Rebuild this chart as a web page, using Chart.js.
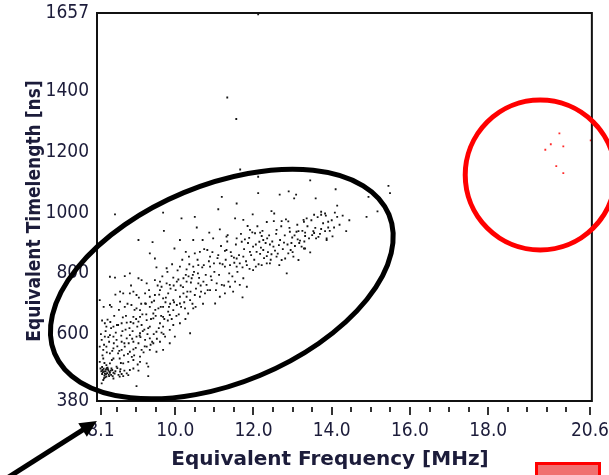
<!DOCTYPE html>
<html>
<head>
<meta charset="utf-8">
<script src="https://cdn.jsdelivr.net/npm/chart.js@4.4.1/dist/chart.umd.min.js"></script>
<style>
  html, body { margin: 0; padding: 0; background: #fff; }
</style>
</head>
<body>
<canvas id="chart" width="609" height="475"></canvas>
<script>
// --- DATA ---
const xTickValues = [8.1, 8.5, 9.0, 9.5, 10.0, 10.5, 11.0, 11.5, 12.0, 12.5, 13.0, 13.5, 14.0, 14.5,
    15.0, 15.5, 16.0, 16.5, 17.0, 17.5, 18.0, 18.5, 19.0, 19.5, 20.0, 20.6];
const xTickLabels = [8.1, 10.0, 12.0, 14.0, 16.0, 18.0, 20.6];
const yTickValues = [380, 600, 800, 1000, 1200, 1400, 1657];

// [frequency MHz, timelength ns]
const clusterPoints = [
    [11.57,1030],[11.10,1011],[8.46,994],[9.69,1000],[10.16,981],[10.50,986],[12.46,1005],[12.53,997],[11.98,994],
    [11.53,981],[11.74,976],[12.34,969],[12.52,972],[12.72,972],[12.83,978],[12.89,971],[13.28,976],[13.29,970],
    [10.55,951],[9.71,940],[10.87,934],[11.14,945],[11.31,921],[11.85,956],[11.91,943],[12.04,932],[12.17,934],
    [12.21,923],[12.59,943],[12.93,937],[13.10,937],[13.15,939],[13.19,908],[13.13,912],[12.99,918],
    [9.06,910],[9.42,903],[10.12,910],[10.46,910],[10.70,910],[10.97,915],[11.34,926],[11.57,915],[11.70,904],
    [11.78,912],[11.89,917],[11.99,888],[12.15,904],[12.25,910],[12.35,915],[12.42,895],[12.51,888],[12.65,893],
    [12.78,901],[12.95,877],[13.06,890],[13.23,888],[13.29,882],[12.89,866],
    [9.35,866],[9.48,849],[9.98,882],[10.27,871],[10.35,855],[10.50,866],[10.63,871],[10.82,877],[10.89,855],
    [11.10,860],[11.27,874],[11.31,877],[11.44,857],[11.50,852],[11.57,849],[11.74,855],[11.91,871],[12.08,871],
    [12.17,864],[12.25,877],[12.34,857],[12.46,863],[12.59,855],[12.72,844],[12.81,849],[13.02,855],[13.15,844],
    [12.66,827],[12.42,833],
    [9.52,820],[9.78,817],[10.12,822],[10.29,813],[10.46,822],[10.59,827],[10.73,827],[10.89,822],[10.99,833],
    [11.14,833],[11.27,822],[11.40,827],[11.57,822],[11.65,833],[11.83,827],[11.99,811],[12.06,822],[12.21,827],
    [12.34,833],[12.85,800],[8.84,800],[8.71,791],[8.33,789],[8.46,786],
    [9.06,784],[9.14,778],[9.27,767],[9.48,778],[9.61,773],[9.65,756],[9.78,767],[9.86,762],[9.95,786],[10.04,773],
    [10.21,784],[10.29,773],[10.42,784],[10.59,767],[10.72,773],[10.80,762],[10.93,778],[11.06,767],[11.19,762],
    [11.36,773],[11.40,756],[11.53,773],[11.74,784],[11.83,756],[11.65,762],
    [8.59,740],[8.67,734],[8.84,734],[8.93,740],[9.01,729],[9.23,734],[9.35,723],[9.48,729],[9.61,745],[9.69,718],
    [9.82,734],[9.95,712],[10.12,723],[10.21,734],[10.29,723],[10.38,712],[10.50,729],[10.63,723],[10.76,734],
    [10.89,745],[11.02,701],[11.14,723],[11.27,734],[11.48,740],[11.72,721],
    [8.07,712],[8.33,696],[8.37,690],[8.59,707],[8.71,690],[8.88,696],[9.01,685],[9.10,679],[9.23,701],[9.35,690],
    [9.44,668],[9.57,685],[9.69,690],[9.82,674],[9.95,679],[10.04,696],[10.12,701],[10.25,685],[10.33,668],
    [10.46,685],[8.93,657],[9.10,657],[9.69,657],[9.86,663],
    [8.20,636],[8.24,625],[8.42,625],[8.54,630],[8.63,636],[8.76,638],[8.93,636],[9.06,641],[9.14,630],[9.27,646],
    [9.35,625],[9.44,652],[9.61,636],[9.69,625],[9.86,614],[9.95,630],[10.12,636],[10.38,603],[9.52,608],[9.65,605],
    [8.12,581],[8.20,592],[8.33,597],[8.42,592],[8.50,581],[8.63,575],[8.76,586],[8.84,597],[8.93,575],[9.01,592],
    [9.10,603],[9.23,581],[9.35,586],[9.44,570],[9.61,575],[9.74,592],[9.86,570],[9.99,592],
    [8.07,559],[8.16,548],[8.24,559],[8.33,537],[8.42,553],[8.54,537],[8.63,548],[8.71,559],[8.84,542],[8.93,550],
    [9.06,570],[9.14,548],[9.27,559],[9.35,548],[9.52,542],[9.69,548],[9.10,526],
    [8.07,509],[8.16,520],[8.24,498],[8.33,504],[8.42,520],[8.50,493],[8.67,504],[8.80,509],[8.93,515],[9.10,509],
    [9.27,504],[9.31,493],
    [8.09,487],[8.14,482],[8.18,477],[8.23,484],[8.29,480],[8.33,473],[8.13,469],[8.19,464],[8.24,460],[8.30,467],
    [8.37,487],[8.42,473],[8.59,477],[8.63,469],[8.67,462],[8.76,471],[8.84,482],[8.93,487],[9.06,480],[8.16,449],
    [9.31,462],[8.42,454],[9.01,429],[8.12,438],
    [8.15,475],[8.17,486],[8.20,470],[8.22,478],[8.26,472],[8.27,490],[8.31,462],[8.35,480],[8.21,458],[8.28,485],
    [8.11,478],[8.40,462],[8.45,470],[8.55,466],[8.60,485],
    [15.17,1004],[14.89,986],[14.14,1023],[14.14,986],[13.73,1003],[13.73,993],[13.83,997],[13.55,993],[13.36,981],
    [13.91,970],[13.91,951],[14.06,951],[13.73,946],[13.83,939],[14.37,939],[13.53,939],[13.55,933],[13.32,934],
    [13.50,926],[13.66,920],[13.60,915],[14.02,922],[13.87,915],[13.87,910],[13.32,882],[13.45,869],[13.32,923]
];
// fainter, denser part of the band, estimated strip by strip
const bandPoints = [
    [8.14,530],[8.18,565],[8.22,610],[8.27,648],[8.31,575],[8.36,620],[8.39,545],[8.44,660],[8.48,605],[8.52,560],
    [8.56,680],[8.58,520],[8.62,595],[8.66,655],[8.69,530],[8.73,615],[8.78,700],[8.81,570],[8.86,640],[8.89,525],
    [8.91,610],[8.96,680],[8.99,555],[9.03,625],[9.07,720],[9.11,590],[9.16,665],[9.19,540],[9.21,615],[9.25,700],
    [9.29,600],[9.33,745],[9.38,650],[9.41,575],[9.46,710],[9.50,660],[9.55,760],[9.58,620],[9.63,690],[9.67,790],
    [9.72,650],[9.76,720],[9.80,805],[9.84,690],[9.88,750],[9.92,830],[9.97,705],[10.01,745],[10.06,810],[10.09,665],
    [10.14,760],[10.18,845],[10.23,705],[10.27,795],[10.31,740],[10.36,830],[10.40,770],[10.44,700],[10.48,805],
    [10.53,750],[10.57,845],[10.61,785],[10.66,740],[10.69,820],[10.74,880],[10.78,795],[10.83,745],[10.86,840],
    [10.91,790],[10.95,870],[11.00,805],[11.04,745],[11.08,850],[11.12,795],[11.17,890],[11.21,830],[11.25,760],
    [11.29,845],[11.33,905],[11.38,800],[11.42,870],[11.46,790],[11.51,835],[11.55,895],[11.59,805],[11.63,860],
    [11.68,930],[11.72,820],[11.76,880],[11.81,840],[11.86,900],[11.90,815],[11.94,860],[11.97,935],[12.02,845],
    [12.06,895],[12.10,955],[12.13,830],[12.19,885],[12.23,940],[12.27,850],[12.31,900],[12.37,870],[12.40,925],
    [12.44,845],[12.48,905],[12.55,875],[12.58,930],[12.62,865],[12.68,910],[12.71,955],[12.75,880],[12.80,925],
    [12.87,895],[12.92,950],[12.97,900],[13.00,870],[13.05,925],[13.12,960],[13.17,900],[13.25,940],[13.30,905],
    [13.38,955],[13.42,915],[13.48,975],[13.58,950],[13.64,985],[13.70,930],[13.78,965],[13.85,990],[13.95,940],
    [14.00,975],[14.08,1000],[14.20,960],[14.28,990],[14.45,975],
    [8.10,600],[8.13,645],[8.17,690],[8.19,505],[8.25,540],[8.29,590],[8.34,640],[8.38,515],[8.43,570],[8.47,730],
    [8.51,630],[8.57,545],[8.61,505],[8.65,610],[8.70,570],[8.74,660],[8.79,535],[8.83,620],[8.87,760],[8.90,585],
    [8.95,530],[9.00,650],[9.04,500],[9.09,595],[9.13,700],[9.17,610],[9.22,560],[9.26,665],[9.31,620],[9.37,565],
    [9.40,705],[9.45,600],[9.49,680],[9.53,585],[9.59,730],[9.64,660],[9.70,600],[9.75,705],[9.81,645],[9.87,700],
    [9.91,650],[9.96,760],[10.03,660],[10.08,780],[10.15,690],[10.20,755],[10.26,650],[10.34,790],[10.39,740],
    [10.45,795],[10.52,690],[10.58,800],[10.65,760],[10.71,700],
    [8.13,492],[8.18,455],[8.23,468],[8.25,488],[8.32,476],[8.36,466],[8.39,482],[8.47,478],[8.52,488],[8.58,460],
    [8.70,480],[8.80,465]
];
const outlierPoints = [
    [12.12,1653],[11.33,1379],[11.56,1308],[11.66,1142],[11.19,1052],[12.12,1118],[13.45,1106],[15.45,1088],
    [15.49,1064],[12.12,1064],[12.67,1059],[12.90,1070],[13.09,1059],[13.04,1047],[13.59,1047],[14.10,1077],
    [14.94,1052]
];
const redPoints = [
    [19.82,1261],[19.60,1225],[19.92,1218],[19.46,1207],[19.74,1153],[19.92,1130],[20.62,1238]
];

// hand-drawn marks on the figure (centres in data units, sizes in px)
const ellipseCenter = [11.19, 765];
const redCircleCenter = [19.33, 1124];

const tickFont = "'DejaVu Sans Condensed', 'Liberation Sans', sans-serif";
const textColor = '#1c1c3a';

const toXY = pts => pts.map(p => ({ x: p[0], y: p[1] }));
const isMajor = v => xTickLabels.some(t => Math.abs(t - v) < 1e-6);

const framePlugin = {
    id: 'frame',
    afterDraw(chart) {
        const { ctx, chartArea: a, scales: { x, y } } = chart;
        ctx.save();

        // plot box
        ctx.strokeStyle = '#111';
        ctx.lineWidth = 2;
        ctx.strokeRect(a.left, a.top, a.right - a.left, a.bottom - a.top);

        // x tick marks, a little below the box
        ctx.strokeStyle = '#333';
        ctx.lineWidth = 2;
        xTickValues.forEach(v => {
            const px = Math.round(x.getPixelForValue(v));
            const len = isMajor(v) ? 8 : 5;
            ctx.beginPath();
            ctx.moveTo(px, a.bottom + 6);
            ctx.lineTo(px, a.bottom + 6 + len);
            ctx.stroke();
        });

        // axis titles
        ctx.fillStyle = textColor;
        ctx.textAlign = 'center';
        ctx.textBaseline = 'middle';
        ctx.font = "bold 20px 'DejaVu Sans', sans-serif";
        ctx.fillText('Equivalent Frequency [MHz]', 330, 460);
        ctx.save();
        ctx.translate(35, 211);
        ctx.rotate(-Math.PI / 2);
        ctx.font = "bold 19px 'DejaVu Sans Condensed', 'DejaVu Sans', sans-serif";
        ctx.fillText('Equivalent Timelength [ns]', 0, 0);
        ctx.restore();

        // black ellipse round the main cluster
        ctx.strokeStyle = '#000';
        ctx.lineWidth = 5;
        ctx.beginPath();
        ctx.ellipse(x.getPixelForValue(ellipseCenter[0]), y.getPixelForValue(ellipseCenter[1]),
            181, 99, -0.394, 0, Math.PI * 2);
        ctx.stroke();

        // red circle round the far points
        ctx.strokeStyle = '#ff0000';
        ctx.beginPath();
        ctx.arc(x.getPixelForValue(redCircleCenter[0]), y.getPixelForValue(redCircleCenter[1]), 75, 0, Math.PI * 2);
        ctx.stroke();

        // arrow pointing at the first tick label
        const tipX = x.getPixelForValue(8.1) - 4, tipY = a.bottom + 20;
        const dx = 0.844, dy = -0.536;
        ctx.strokeStyle = '#000';
        ctx.fillStyle = '#000';
        ctx.lineWidth = 5;
        ctx.beginPath();
        ctx.moveTo(tipX - 105 * dx, tipY - 105 * dy);
        ctx.lineTo(tipX - 12 * dx, tipY - 12 * dy);
        ctx.stroke();
        const bx = tipX - 17 * dx, by = tipY - 17 * dy;
        ctx.beginPath();
        ctx.moveTo(tipX, tipY);
        ctx.lineTo(bx + 8 * -dy, by + 8 * dx);
        ctx.lineTo(bx - 8 * -dy, by - 8 * dx);
        ctx.closePath();
        ctx.fill();

        // red box at the bottom right corner
        ctx.fillStyle = '#f07070';
        ctx.strokeStyle = '#ff0000';
        ctx.lineWidth = 3;
        ctx.fillRect(536.5, 463.5, 63, 20);
        ctx.strokeRect(536.5, 463.5, 63, 20);

        ctx.restore();
    }
};

new Chart(document.getElementById('chart'), {
    type: 'scatter',
    data: {
        datasets: [
            {
                data: toXY(clusterPoints.concat(bandPoints, outlierPoints)),
                backgroundColor: '#151515',
                pointStyle: 'rect',
                pointRadius: 1.3,
                borderWidth: 0
            },
            {
                data: toXY(redPoints),
                backgroundColor: '#ff2a2a',
                pointStyle: 'rect',
                pointRadius: 1.3,
                borderWidth: 0
            }
        ]
    },
    options: {
        responsive: false,
        animation: false,
        devicePixelRatio: 1,
        layout: { padding: { top: 13, right: 17, left: 0, bottom: 0 } },
        plugins: { legend: { display: false }, tooltip: { enabled: false } },
        scales: {
            x: {
                type: 'linear',
                min: 8.0,
                max: 20.65,
                // tick marks are drawn by the frame plugin; tickLength only reserves the gap above the labels
                grid: { display: false, drawTicks: true, tickLength: 19 },
                border: { display: false },
                afterBuildTicks: s => { s.ticks = xTickValues.map(v => ({ value: v })); },
                afterFit: s => { s.height = 74; },
                ticks: {
                    autoSkip: false,
                    maxRotation: 0,
                    padding: 0,
                    color: textColor,
                    font: { family: tickFont, size: 19 },
                    callback: v => isMajor(v) ? v.toFixed(1) : ''
                }
            },
            y: {
                type: 'linear',
                min: 380,
                max: 1657,
                grid: { display: false, drawTicks: true, tickLength: 8 },
                border: { display: false },
                afterBuildTicks: s => { s.ticks = yTickValues.map(v => ({ value: v })); },
                afterFit: s => { s.width = 97; },
                ticks: {
                    autoSkip: false,
                    padding: 0,
                    color: textColor,
                    font: { family: tickFont, size: 19 },
                    callback: v => String(v)
                }
            }
        }
    },
    plugins: [framePlugin]
});
</script>
</body>
</html>
